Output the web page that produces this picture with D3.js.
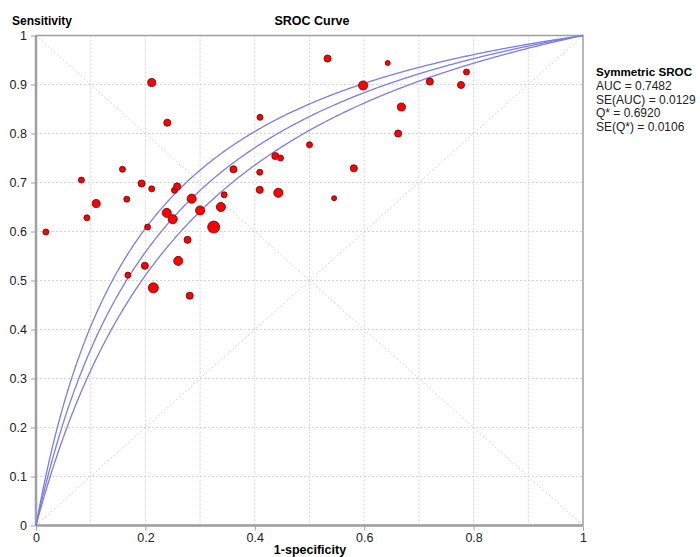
<!DOCTYPE html>
<html><head><meta charset="utf-8">
<script src="https://cdn.jsdelivr.net/npm/d3@7"></script>
<style>body{margin:0;background:#fff}text{font-family:"Liberation Sans",Arial,sans-serif}</style>
</head><body><svg id="c" width="700" height="557"></svg>
<script>
// 1-specificity (FPR) of each study
const fpr = [0.018,0.083,0.093,0.110,0.158,0.166,0.168,0.193,0.199,0.204,0.2115,0.2115,0.2145,0.239,0.240,0.250,0.253,0.258,0.260,0.277,0.281,0.2846,0.300,0.3248,0.338,0.344,0.361,0.4095,0.409,0.409,0.4375,0.443,0.447,0.500,0.533,0.545,0.581,0.598,0.643,0.662,0.668,0.720,0.777,0.787];
// sensitivity of each study
const sens = [0.599,0.705,0.628,0.657,0.727,0.666,0.511,0.698,0.530,0.609,0.687,0.904,0.485,0.638,0.822,0.625,0.684,0.692,0.540,0.583,0.469,0.667,0.643,0.609,0.650,0.675,0.727,0.833,0.721,0.685,0.754,0.679,0.750,0.777,0.953,0.668,0.729,0.898,0.944,0.800,0.854,0.906,0.899,0.9255];
// relative study weights
const weight = [1.0,1.0,1.0,1.8,1.0,1.0,1.0,1.4,1.4,1.0,1.0,1.8,2.8,2.3,1.4,2.3,1.0,1.4,2.3,1.4,1.4,2.3,2.3,4.0,2.3,1.0,1.4,1.0,1.0,1.4,1.4,2.3,1.0,1.0,1.4,0.7,1.4,2.3,0.7,1.4,1.8,1.4,1.4,1.0];
const tickValsY = [0,0.1,0.2,0.3,0.4,0.5,0.6,0.7,0.8,0.9,1];
const tickValsX = [0,0.2,0.4,0.6,0.8,1];
const gridVals = [0.1,0.2,0.3,0.4,0.5,0.6,0.7,0.8,0.9];
const Qstar = 0.6920, SEQ = 0.0106;
const legendLines = ["AUC = 0.7482","SE(AUC) = 0.0129","Q* = 0.6920","SE(Q*) = 0.0106"];

const svg = d3.select("#c");
const x = d3.scaleLinear().domain([0,1]).range([36,583]);
const y = d3.scaleLinear().domain([0,1]).range([525.5,35.5]);
const r = d3.scaleSqrt().domain([0,4]).range([0,6]);

// grid
const g = svg.append("g").attr("stroke","#d4d4d4").attr("stroke-dasharray","2,2").attr("stroke-width",1);
gridVals.forEach(v=>{
  g.append("line").attr("x1",x(v)).attr("x2",x(v)).attr("y1",y(0)).attr("y2",y(1));
  g.append("line").attr("x1",x(0)).attr("x2",x(1)).attr("y1",y(v)).attr("y2",y(v));
});
g.append("line").attr("x1",x(0)).attr("y1",y(1)).attr("x2",x(1)).attr("y2",y(0));
g.append("line").attr("x1",x(0)).attr("y1",y(0)).attr("x2",x(1)).attr("y2",y(1));

// frame
svg.append("rect").attr("x",x(0)).attr("y",y(1)).attr("width",x(1)-x(0)).attr("height",y(0)-y(1))
  .attr("fill","none").attr("stroke","#a0a0a0").attr("stroke-width",1.5);
svg.append("line").attr("x1",x(0)).attr("x2",x(0)).attr("y1",y(1)).attr("y2",y(0)).attr("stroke","#a0a0a0").attr("stroke-width",2.5);
svg.append("line").attr("x1",x(0)).attr("x2",x(1)).attr("y1",y(0)).attr("y2",y(0)).attr("stroke","#a0a0a0").attr("stroke-width",2.5);

// axes
const ya = svg.append("g").attr("transform",`translate(${x(0)-1},0)`)
  .call(d3.axisLeft(y).tickValues(tickValsY).tickFormat(d3.format("~g")).tickSize(4).tickPadding(4));
const xa = svg.append("g").attr("transform",`translate(0,${y(0)+1})`)
  .call(d3.axisBottom(x).tickValues(tickValsX).tickFormat(d3.format("~g")).tickSize(4).tickPadding(3));
[ya,xa].forEach(a=>{a.select(".domain").remove();a.selectAll("line").attr("stroke","#a0a0a0");
  a.selectAll("text").attr("font-size",12.5).attr("fill","#222").attr("font-family","'Liberation Sans',Arial,sans-serif");});

// SROC curves
const logit = p=>Math.log(p/(1-p));
const line = d3.line().x(d=>x(d[0])).y(d=>y(d[1]));
[Qstar-1.96*SEQ, Qstar, Qstar+1.96*SEQ].forEach(q=>{
  const a = 2*logit(q);
  const pts = d3.range(0,1.0001,0.002).map(f=>{
    if(f<=0) return [0,0]; if(f>=1) return [1,1];
    const t = a+logit(f); return [f,1/(1+Math.exp(-t))];});
  svg.append("path").attr("d",line(pts)).attr("fill","none").attr("stroke","#7c7ce8").attr("stroke-width",1.3);
});

// points
svg.append("g").selectAll("circle").data(fpr.map((f,i)=>({f,s:sens[i],w:weight[i]})))
  .join("circle").attr("cx",d=>x(d.f)).attr("cy",d=>y(d.s)).attr("r",d=>r(d.w))
  .attr("fill","#ff0000").attr("stroke","#6a0000").attr("stroke-width",0.8);

// texts
svg.append("text").attr("x",12).attr("y",25).attr("font-size",12).attr("font-weight","bold").text("Sensitivity");
svg.append("text").attr("x",312).attr("y",25).attr("text-anchor","middle").attr("font-size",12.5).attr("font-weight","bold").text("SROC Curve");
svg.append("text").attr("x",310).attr("y",554).attr("text-anchor","middle").attr("font-size",12.5).attr("font-weight","bold").text("1-specificity");
svg.append("text").attr("x",596).attr("y",76).attr("font-size",11.6).attr("font-weight","bold").text("Symmetric SROC");
legendLines.forEach((t,i)=>svg.append("text").attr("x",596).attr("y",90+i*13.6).attr("font-size",12).attr("fill","#222").text(t));
</script></body></html>
